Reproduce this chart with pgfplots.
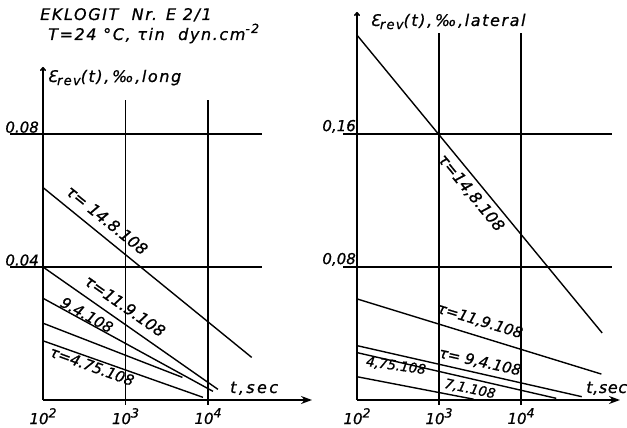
\documentclass[border=0pt]{standalone}
\usepackage{fontspec}
\setmainfont{DejaVu Sans}[FakeBold=0.8]
\usepackage{pgfplots}
\pgfplotsset{compat=1.18}
\usetikzlibrary{arrows.meta}

% lettering: titles, tick labels, curve labels
\newcommand\txt{\fontsize{16}{19}\selectfont\itshape\addfontfeature{LetterSpace=10}}
\newcommand\tck{\fontsize{15}{18}\selectfont\itshape}
\newcommand\crv[1]{\fontsize{#1}{#1}\selectfont\itshape}
\newcommand\sups[1]{\raisebox{0.8ex}{\fontsize{12.5}{15}\selectfont #1}}
\newcommand\subs[1]{\raisebox{-0.35ex}{\fontsize{13}{15}\selectfont #1}}

\tikzset{
  curve/.style={black, line width=1.4pt},
  gridline/.style={black, line width=1.6pt},
}

\begin{document}
\begin{tikzpicture}
\useasboundingbox (0pt,0pt) rectangle (627pt,428pt);

\node[anchor=base west, inner sep=0pt, font=\txt] at (40pt,408pt) {EKLOGIT\ \ Nr. E 2/1};
\node[anchor=base west, inner sep=0pt, font=\txt] at (48pt,388pt) {T=24 °C, τin\ \ dyn.cm\sups{-2}};

% longitudinal strain recovery
\begin{axis}[
  xmode=log, log basis x=10,
  scale only axis, clip=false,
  axis lines=left,
  x axis line style={line width=1.6pt, -{Stealth[length=11pt,width=8pt]}},
  y axis line style={line width=1.6pt, -{To[length=4pt,width=6pt]}},
  major tick length=0pt,
  xtick={100,1000,10000},
  xticklabels={\tck 10\sups{2},\tck 10\sups{3},\tck 10\sups{4}},
  xticklabel style={anchor=north, inner sep=0pt, yshift=-8pt},
  yticklabel style={anchor=south east, inner sep=0pt, xshift=-4pt, yshift=1pt},
  label style={inner sep=0pt},
  at={(43pt,28pt)}, anchor=south west,
  width=269pt, height=333pt,
  xmin=100, xmax=182240, ymin=0, ymax=0.10015,
  ytick={0.04,0.08}, yticklabels={\tck 0.04,\tck 0.08},
  xlabel={\txt\addfontfeature{LetterSpace=15}t,sec},
  xlabel style={at={(rel axis cs:0.695,0.021)}, anchor=base west},
  ylabel={\txt Ɛ\subs{rev}(t),\,‰,long},
  ylabel style={at={(rel axis cs:0.015,0.955)}, rotate=-90, anchor=base west},
]
\draw[gridline] (axis cs:39.8,0.04) -- (axis cs:45140,0.04);
\draw[gridline] (axis cs:39.8,0.08) -- (axis cs:45140,0.08);
\draw[gridline] (axis cs:1000,-0.0015) -- (axis cs:1000,0.0902);
\draw[gridline] (axis cs:10000,-0.0015) -- (axis cs:10000,0.0902);

\addplot[curve] coordinates {(100,0.0639) (33900,0.0128)};
\addplot[curve] coordinates {(100,0.0400) (13200,0.0032)};
\addplot[curve] coordinates {(100,0.0306) (11500,0.0026)};
\addplot[curve] coordinates {(100,0.0231) (4900,0.0068)};
\addplot[curve] coordinates {(100,0.0178) (8700,0.0008)};

\node[font=\crv{16}, rotate=-39] at (axis cs:597,0.0541) {τ= 14.8.108};
\node[font=\crv{16}, rotate=-35] at (axis cs:986,0.0283) {τ=11.9.108};
\node[font=\crv{15}, rotate=-29] at (axis cs:341,0.0256) {9.4.108};
\node[font=\crv{15}, rotate=-20] at (axis cs:393,0.0102) {τ=4.75.108};
\end{axis}

% lateral strain recovery
\begin{axis}[
  xmode=log, log basis x=10,
  scale only axis, clip=false,
  axis lines=left,
  x axis line style={line width=1.6pt, -{Stealth[length=11pt,width=8pt]}},
  y axis line style={line width=1.6pt, -{To[length=4pt,width=6pt]}},
  major tick length=0pt,
  xtick={100,1000,10000},
  xticklabels={\tck 10\sups{2},\tck 10\sups{3},\tck 10\sups{4}},
  xticklabel style={anchor=north, inner sep=0pt, yshift=-8pt},
  yticklabel style={anchor=south east, inner sep=0pt, xshift=-1pt, yshift=1pt},
  label style={inner sep=0pt},
  at={(357pt,28pt)}, anchor=south west,
  width=263pt, height=388pt,
  xmin=100, xmax=161070, ymin=0, ymax=0.2334,
  ytick={0.08,0.16}, yticklabels={{\tck 0,08},{\tck 0,16}},
  xlabel={\txt\addfontfeature{LetterSpace=4}t,sec},
  xlabel style={at={(rel axis cs:0.871,0.018)}, anchor=base west},
  ylabel={\txt Ɛ\subs{rev}(t),\,‰,lateral},
  ylabel style={at={(rel axis cs:0.049,0.964)}, rotate=-90, anchor=base west},
]
\draw[gridline] (axis cs:67.5,0.08) -- (axis cs:128800,0.08);
\draw[gridline] (axis cs:67.5,0.16) -- (axis cs:128800,0.16);
\draw[gridline] (axis cs:1000,-0.003) -- (axis cs:1000,0.2208);
\draw[gridline] (axis cs:10000,-0.003) -- (axis cs:10000,0.2208);

\addplot[curve] coordinates {(100,0.2195) (97700,0.0403)};
\addplot[curve] coordinates {(100,0.0608) (95500,0.0156)};
\addplot[curve] coordinates {(100,0.0327) (55000,0.0020)};
\addplot[curve] coordinates {(100,0.0285) (26900,0.0010)};
\addplot[curve] coordinates {(100,0.0140) (2630,0.0005)};

\node[font=\crv{16}, rotate=-50.6] at (axis cs:2455,0.1245) {τ=14,8.108};
\node[font=\crv{15}, rotate=-17] at (axis cs:3162,0.0475) {τ=11,9.108};
\node[font=\crv{15}, rotate=-12.5] at (axis cs:3162,0.0229) {τ= 9,4.108};
\node[font=\crv{13.5}, rotate=-12] at (axis cs:2390,0.0066) {7,1.108};
\node[font=\crv{13.5}, rotate=-8] at (axis cs:299,0.0205) {4,75.108};
\end{axis}
\end{tikzpicture}
\end{document}
